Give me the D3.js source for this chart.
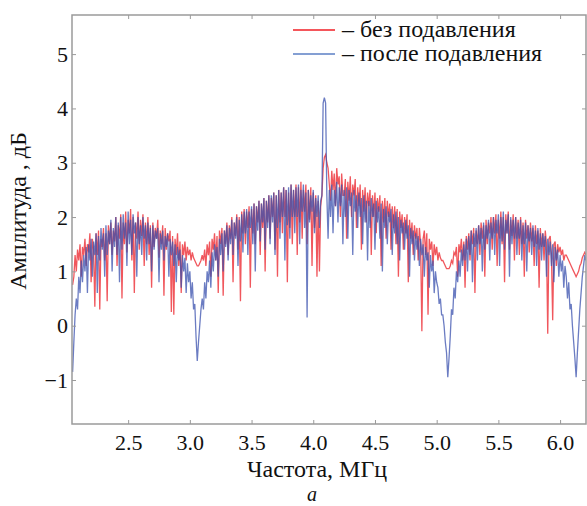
<!DOCTYPE html>
<html>
<head>
<meta charset="utf-8">
<script src="https://cdn.jsdelivr.net/npm/d3@7"></script>
<style>
  body { margin: 0; background: #fff; }
  svg, svg text { font-family: "Liberation Serif", "DejaVu Serif", serif; fill: #111; }
</style>
</head>
<body>
<div id="chart"></div>
<script>
// frequency grid, MHz
const freqStart = 2.05;
const freqStep = 0.01;

// amplitude, dB — without suppression
const ampBefore = [
  0.75, 0.9, 1.3, 1.0, 1.4, 1.2, 1.5, 0.9, 1.45, 1.3, 1.6, 1.1, 1.5, 1.35, 1.7, 0.8, 1.6, 1.4, 0.35, 1.7,
  1.3, 1.75, 0.3, 1.6, 1.45, 1.8, 1.2, 1.7, 0.45, 1.85, 1.5, 1.9, 1.3, 1.75, 1.55, 2.0, 1.1, 1.85, 1.6, 2.05,
  0.5, 1.9, 1.5, 2.1, 1.35, 1.95, 1.7, 2.15, 1.2, 2.0, 0.6, 1.9, 1.6, 2.1, 1.4, 1.95, 1.65, 2.05, 1.1, 1.9,
  1.5, 2.0, 1.3, 1.85, 0.7, 1.9, 1.45, 1.8, 1.6, 1.95, 1.25, 1.75, 1.5, 1.85, 0.55, 1.8, 1.4, 1.7, 1.55, 1.75,
  0.25, 1.65, 0.2, 1.6, 1.3, 1.7, 1.1, 1.55, 0.6, 1.5, 1.3, 1.55, 1.2, 1.45, 1.3, 1.4, 1.2, 1.35, 1.25, 1.2,
  1.15, 1.1, 1.1, 1.15, 1.2, 1.3, 1.2, 1.4, 1.1, 1.5, 1.3, 1.55, 0.9, 1.6, 1.4, 1.7, 1.2, 1.65, 0.6, 1.75,
  1.5, 1.8, 0.55, 1.75, 1.5, 1.9, 1.3, 1.85, 1.6, 2.0, 0.8, 1.9, 1.65, 2.05, 1.4, 2.0, 0.45, 2.1, 1.7, 2.15,
  1.5, 2.1, 1.8, 2.2, 0.7, 2.15, 1.7, 2.25, 1.5, 2.2, 1.9, 2.3, 1.3, 2.25, 1.8, 2.35, 1.0, 2.3, 1.9, 2.4,
  1.6, 2.35, 2.0, 2.45, 1.4, 2.4, 0.9, 2.5, 1.9, 2.45, 1.7, 2.55, 2.0, 2.5, 0.8, 2.45, 1.8, 2.6, 1.5, 2.5,
  2.0, 2.6, 1.3, 2.55, 1.9, 2.65, 1.6, 2.5, 2.1, 2.6, 1.5, 2.5, 1.95, 2.55, 1.1, 2.45, 1.8, 2.4, 0.9, 2.3,
  1.0, 2.2, 2.4, 2.9, 3.1, 3.15, 3.0, 2.9, 2.6, 2.3, 2.85, 2.5, 2.8, 2.2, 2.9, 2.6, 2.75, 2.0, 2.8, 2.4,
  2.4, 2.7, 1.6, 2.65, 2.3, 2.75, 2.0, 2.6, 2.4, 2.7, 1.8, 2.55, 2.2, 2.6, 1.4, 2.5, 2.1, 2.55, 1.9, 2.45,
  2.2, 2.5, 1.3, 2.4, 2.0, 2.45, 1.7, 2.35, 2.1, 2.4, 1.1, 2.3, 1.9, 2.35, 1.6, 2.3, 2.0, 2.25, 1.4, 2.2,
  1.8, 2.2, 1.5, 2.15, 0.9, 2.1, 1.8, 2.05, 1.4, 2.0, 1.7, 2.05, 0.8, 1.95, 1.6, 1.9, 1.3, 1.85, 1.6, 1.8,
  1.2, 1.8, 1.5, -0.1, 1.6, 1.75, 1.3, 1.7, 0.2, 1.6, 1.4, 1.55, 1.1, 1.5, 1.3, 1.45, 1.2, 1.35, 1.25, 1.2,
  1.2, 1.15, 1.1, 1.05, 1.05, 1.05, 1.1, 1.2, 1.15, 1.35, 1.3, 1.45, 0.9, 1.5, 1.35, 1.6, 1.2, 1.55, 0.7, 1.65,
  1.4, 1.7, 1.2, 1.75, 1.5, 1.8, 0.6, 1.75, 1.5, 1.85, 1.3, 1.9, 1.6, 1.85, 0.9, 1.95, 1.5, 1.9, 1.7, 2.0,
  1.4, 2.0, 1.7, 2.05, 1.1, 1.95, 1.6, 2.1, 1.5, 2.0, 0.8, 2.05, 1.7, 2.1, 1.4, 1.95, 1.65, 2.05, 1.2, 2.0,
  1.6, 1.95, 1.3, 2.0, 1.5, 1.9, 0.9, 1.95, 1.6, 1.85, 1.35, 1.9, 1.55, 1.8, 1.1, 1.85, 1.5, 1.75, 0.7, 1.8,
  1.45, 1.7, 1.2, 1.75, 1.5, -0.15, 1.6, 1.65, 1.3, 0.1, 1.5, 1.55, 1.1, 1.5, 1.35, 1.45, 1.3, 1.4, 1.2, 1.3,
  1.3, 1.25, 1.2, 1.15, 1.1, 1.05, 1.0, 0.95, 0.9, 0.95, 1.0, 1.1, 1.15, 1.25, 1.3, 1.35, 1.3
];

// amplitude, dB — after suppression
const ampAfter = [
  -0.85, -0.3, 0.2, 0.5, 0.3, 0.9, 0.6, 1.2, 0.8, 1.3, 1.0, 1.45, 0.6, 1.5, 1.2, 1.6, 0.9, 1.55, 1.3, 1.7,
  0.6, 1.65, 1.2, 1.8, 1.4, 1.7, 0.9, 1.85, 1.3, 1.75, 1.5, 1.95, 1.0, 1.8, 1.45, 2.0, 1.3, 1.9, 0.8, 2.0,
  1.4, 2.05, 1.6, 1.9, 1.1, 2.1, 1.5, 1.95, 1.3, 2.05, 1.7, 1.9, 0.9, 2.0, 1.5, 1.85, 1.3, 2.0, 1.6, 1.85,
  1.2, 1.9, 1.5, 1.8, 1.0, 1.85, 1.4, 1.75, 1.6, 1.8, 0.8, 1.7, 1.4, 1.75, 1.2, 1.65, 1.45, 1.7, 0.9, 1.6,
  1.3, 1.55, 1.1, 1.5, 0.8, 1.45, 1.2, 1.4, 0.7, 1.3, 1.0, 1.25, 0.6, 1.15, 0.8, 1.0, 0.5, 0.8, 0.3, 0.4,
  -0.2, -0.65, -0.3, 0.0, 0.3, 0.5, 0.3, 0.8, 0.5, 1.0, 0.8, 1.2, 0.7, 1.35, 1.0, 1.5, 1.2, 1.45, 0.9, 1.6,
  1.3, 1.7, 1.0, 1.75, 1.45, 1.85, 1.2, 1.8, 1.5, 1.95, 1.3, 1.9, 1.6, 2.0, 1.1, 1.95, 1.55, 2.05, 1.35, 2.1,
  1.7, 2.15, 1.3, 2.1, 1.8, 2.2, 1.5, 2.25, 1.0, 2.2, 1.75, 2.3, 1.55, 2.25, 1.9, 2.35, 1.4, 2.3, 1.8, 2.4,
  1.5, 2.4, 1.9, 2.45, 1.3, 2.4, 1.8, 2.5, 1.6, 2.45, 2.0, 2.55, 1.2, 2.5, 1.85, 2.55, 1.6, 2.6, 2.0, 2.5,
  1.7, 2.55, 2.0, 2.6, 1.5, 2.5, 2.1, 2.6, 1.8, 2.45, 0.15, 2.5, 1.9, 2.4, 2.1, 2.5, 1.7, 2.35, 2.0, 2.4,
  1.8, 2.3, 2.4, 4.1, 4.2, 4.1, 2.4, 1.6, 2.5, 2.0, 2.6, 1.7, 2.5, 2.2, 2.65, 1.9, 2.55, 2.2, 2.6, 1.5,
  2.5, 2.0, 2.55, 1.6, 2.5, 2.2, 2.45, 1.3, 2.5, 2.1, 2.4, 1.8, 2.45, 2.0, 2.35, 1.5, 2.4, 1.9, 2.3, 1.2,
  2.3, 1.8, 2.35, 2.0, 2.25, 1.4, 2.3, 1.9, 2.2, 1.6, 2.25, 1.0, 2.15, 1.8, 2.2, 1.5, 2.1, 1.9, 2.15, 1.3,
  2.05, 1.7, 2.1, 1.5, 2.0, 1.2, 1.95, 1.7, 1.9, 1.4, 1.95, 1.6, 1.85, 0.9, 1.8, 1.5, 1.75, 1.2, 1.7, 1.4,
  1.65, 1.1, 1.6, 1.3, 1.5, 0.9, 1.45, 1.2, 1.35, 0.7, 1.3, 1.0, 1.2, 0.6, 1.0, 0.8, 0.7, 0.4, 0.5, 0.2,
  0.2, 0.0, -0.3, -0.5, -0.95, -0.6, -0.2, 0.3, 0.2, 0.7, 0.5, 1.0, 0.8, 1.2, 0.9, 1.4, 1.1, 1.5, 1.2, 1.6,
  1.0, 1.65, 1.3, 1.75, 0.8, 1.7, 1.45, 1.8, 1.2, 1.85, 1.5, 1.8, 1.0, 1.9, 1.4, 1.85, 1.6, 1.95, 1.2, 1.9,
  1.6, 2.0, 1.3, 1.95, 1.7, 2.05, 1.1, 2.0, 1.55, 2.1, 1.4, 1.95, 1.7, 2.05, 0.9, 2.0, 1.5, 1.95, 1.6, 2.0,
  1.3, 1.9, 1.6, 1.95, 1.2, 1.85, 1.5, 1.9, 1.0, 1.85, 1.55, 1.8, 1.3, 1.85, 1.45, 1.75, 1.1, 1.8, 1.4, 1.7,
  1.2, 1.7, 1.45, 1.65, 0.9, 1.6, 1.3, 1.55, 1.1, 1.5, 0.8, 1.45, 1.2, 1.4, 0.9, 1.3, 1.0, 1.2, 0.7, 1.1,
  0.9, 0.5, 0.8, 0.3, 0.4, 0.0, -0.3, -0.6, -0.95, -0.5, -0.1, 0.3, 0.6, 0.9, 1.1, 1.3, 1.2
];

const xTicks = [2.5, 3.0, 3.5, 4.0, 4.5, 5.0, 5.5, 6.0];
const yTicks = [-1, 0, 1, 2, 3, 4, 5];
const legendLabels = ["– без подавления", "– после подавления"];

const width = 587, height = 506;
const margin = {top: 15, right: 1, bottom: 82, left: 72};
const iw = width - margin.left - margin.right;
const ih = height - margin.top - margin.bottom;

const x = d3.scaleLinear().domain([2.045, 6.21]).range([0, iw]);
const y = d3.scaleLinear().domain([-1.81, 5.72]).range([ih, 0]);

const svg = d3.select("#chart").append("svg")
    .attr("width", width)
    .attr("height", height)
    .attr("font-family", "Liberation Serif, serif");

svg.append("defs").append("clipPath").attr("id", "clip")
  .append("rect").attr("width", iw).attr("height", ih);

const g = svg.append("g").attr("transform", `translate(${margin.left},${margin.top})`);

const line = d3.line()
    .x((d, i) => x(freqStart + i * freqStep))
    .y(d => y(d));

const plot = g.append("g").attr("clip-path", "url(#clip)");
plot.append("path")
    .datum(ampBefore)
    .attr("d", line)
    .attr("fill", "none")
    .attr("stroke", "#ec2d35")
    .attr("stroke-opacity", 0.8)
    .attr("stroke-width", 1.3);
plot.append("path")
    .datum(ampAfter)
    .attr("d", line)
    .attr("fill", "none")
    .attr("stroke", "#3a50ae")
    .attr("stroke-opacity", 0.75)
    .attr("stroke-width", 1.3);

// axes with inward ticks on all four sides
const frameColor = "#9a9a9a";
const styleAxis = sel => {
  sel.attr("font-family", null);
  sel.select(".domain").remove();
  sel.selectAll(".tick line").attr("stroke", frameColor);
  sel.selectAll(".tick text").attr("font-size", 22).attr("fill", "#111");
};

g.append("g").attr("transform", `translate(0,${ih})`)
  .call(d3.axisBottom(x).tickValues(xTicks).tickFormat(d3.format(".1f")).tickSize(-4).tickPadding(10))
  .call(styleAxis);
g.append("g")
  .call(d3.axisTop(x).tickValues(xTicks).tickFormat("").tickSize(-4))
  .call(styleAxis);
g.append("g")
  .call(d3.axisLeft(y).tickValues(yTicks).tickFormat(d => d < 0 ? "−" + Math.abs(d) : d).tickSize(-4).tickPadding(4))
  .call(styleAxis);
g.append("g").attr("transform", `translate(${iw},0)`)
  .call(d3.axisRight(y).tickValues(yTicks).tickFormat("").tickSize(-4))
  .call(styleAxis);

g.append("rect")
    .attr("width", iw).attr("height", ih)
    .attr("fill", "none")
    .attr("stroke", frameColor)
    .attr("stroke-width", 1.5);

// axis titles
svg.append("text")
    .attr("x", 317).attr("y", 477)
    .attr("text-anchor", "middle")
    .attr("font-size", 24)
    .text("Частота, МГц");
svg.append("text")
    .attr("x", 312).attr("y", 501)
    .attr("text-anchor", "middle")
    .attr("font-size", 20)
    .attr("font-style", "italic")
    .text("a");
svg.append("text")
    .attr("transform", "translate(26,211) rotate(-90)")
    .attr("text-anchor", "middle")
    .attr("font-size", 24)
    .text("Амплитуда , дБ");

// legend
const legendColors = ["#f01e25", "#5b7fc4"];
const legend = svg.append("g");
legendLabels.forEach((t, i) => {
  const ly = 30 + i * 24;
  legend.append("line")
      .attr("x1", 293).attr("x2", 335)
      .attr("y1", ly).attr("y2", ly)
      .attr("stroke", legendColors[i])
      .attr("stroke-width", 1.6);
  legend.append("text")
      .attr("x", 342).attr("y", ly + 7)
      .attr("font-size", 24)
      .text(t);
});
</script>
</body>
</html>
